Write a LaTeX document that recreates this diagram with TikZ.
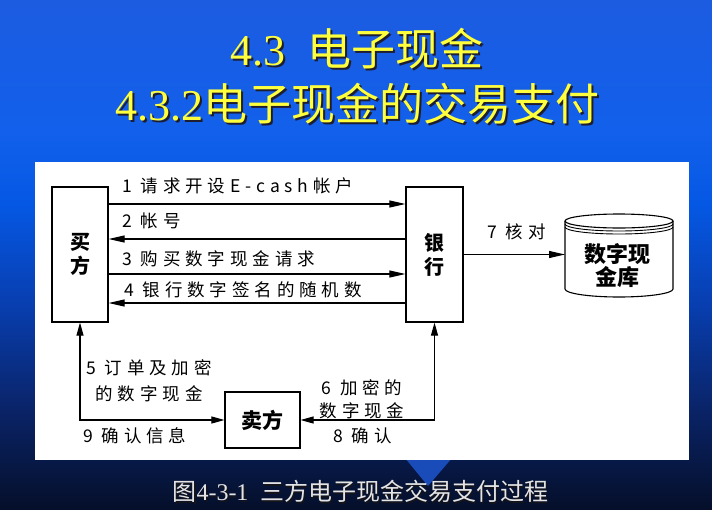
\documentclass[tikz,border=0pt]{standalone}
\usepackage{fontspec}
\setmainfont{Liberation Serif}
\newfontfamily\cjk{Noto Sans CJK SC}
\newfontfamily\cjklab[LetterSpace=28]{Noto Sans CJK SC}
\usetikzlibrary{arrows.meta}
\definecolor{bgA}{RGB}{5,15,42}
\definecolor{bgB}{RGB}{10,36,105}
\definecolor{bgC}{RGB}{8,62,175}
\definecolor{bgD}{RGB}{5,88,228}
\definecolor{bgE}{RGB}{18,96,235}
\definecolor{bgF}{RGB}{28,92,225}
\definecolor{titleyellow}{RGB}{255,255,60}
\definecolor{titleshade}{RGB}{30,30,50}
\definecolor{capgray}{RGB}{228,228,228}
\definecolor{capshade}{RGB}{20,20,25}
\definecolor{tricol}{RGB}{25,75,185}
\newcommand\shtxt[3]{\rlap{\hspace{#2}\raisebox{-#2}{\color{#1}#3}}#3}
\pgfdeclareverticalshading{bgshade}{100bp}{color(0bp)=(bgA); color(25bp)=(bgA); color(35bp)=(bgB); color(45bp)=(bgC); color(55bp)=(bgD); color(62bp)=(bgE); color(75bp)=(bgF); color(100bp)=(bgF)}
\begin{document}
\begin{tikzpicture}[x=1pt,y=-1pt,
  box/.style={draw=black,line width=1.2pt,fill=white,inner sep=0pt,align=center,font=\cjk\bfseries\fontsize{20}{24}\selectfont},
  lab/.style={inner sep=0pt,anchor=west,font=\cjklab\fontsize{17.5}{26}\selectfont},
  arr/.style={line width=1.1pt,-{Triangle[length=16pt,width=7pt]}},
  barr/.style={line width=1.1pt,{Triangle[length=13pt,width=7pt]}-{Triangle[length=13pt,width=7pt]}},
  cyl/.style={line width=1.1pt,draw=black},
  ttl/.style={inner sep=0pt,text=titleyellow,font=\fontsize{44}{50}\selectfont},
  captext/.style={inner sep=0pt,text=capgray,font=\fontsize{24}{28}\selectfont}
]
\useasboundingbox (0,0) rectangle (712,509);
% background
\shade[shading=bgshade] (0,0) rectangle (712,509);
\fill[tricol] (405,458) -- (452,458) -- (428,486) -- cycle;
\fill[white] (35,162) rectangle (689,460);
% titles
\node[ttl] (t1) at (357,49.5) {\shtxt{titleshade}{2.2pt}{4.3\hspace{0.5em}{\cjk 电子现金}}};
\node[ttl] (t2) at (357,104.5) {\shtxt{titleshade}{2.2pt}{4.3.2{\cjk 电子现金的交易支付}}};
% caption
\node[captext] (c) at (360.5,492.5) {\shtxt{capshade}{1.5pt}{{\cjk 图}4-3-1\hspace{0.5em}{\cjk 三方电子现金交易支付过程}}};
% boxes
\node[box,minimum width=56pt,minimum height=135pt] (buyer) at (80,254.5) {买\\方};
\node[box,minimum width=57pt,minimum height=135pt] (bank) at (434.5,254.5) {银\\行};
\node[box,minimum width=75pt,minimum height=56pt,font=\cjk\bfseries\fontsize{21}{24}\selectfont] (seller) at (262.5,420) {卖方};
% cylinder
\draw[cyl,fill=white] (565,221) -- (565,289) arc[start angle=180,end angle=360,x radius=54pt,y radius=8pt] -- (673,221);
\draw[cyl,fill=white] (619,221) ellipse [x radius=54pt,y radius=7pt];
\draw[cyl,line width=0.9pt] (565,224) arc[start angle=180,end angle=360,x radius=54pt,y radius=7pt];
\draw[cyl,line width=0.9pt] (565,227) arc[start angle=180,end angle=360,x radius=54pt,y radius=7pt];
\node[inner sep=0pt,align=center,font=\cjk\bfseries\fontsize{22}{23}\selectfont] (db) at (617,266) {数字现\\金库};
\coordinate (dbleft) at (565,254.5);
% top arrows
\draw[arr] ([yshift=50.5pt]buyer.east) -- ([yshift=50.5pt]bank.west);
\draw[arr] ([yshift=15.5pt]bank.west) -- ([yshift=15.5pt]buyer.east);
\draw[arr] ([yshift=-19.5pt]buyer.east) -- ([yshift=-19.5pt]bank.west);
\draw[arr] ([yshift=-48.5pt]bank.west) -- ([yshift=-48.5pt]buyer.east);
\draw[arr] (bank.east) -- (dbleft);
% bottom connectors
\draw[barr] (buyer.south) |- (seller.west);
\draw[barr] (bank.south) |- (seller.east);
% labels
\node[lab] (l1) at (122,186) {1 请求开设E-cash帐户};
\node[lab] (l2) at (122,221) {2 帐号};
\node[lab] (l3) at (122,259) {3 购买数字现金请求};
\node[lab] (l4) at (124,290) {4 银行数字签名的随机数};
\node[lab] (l7) at (487,232) {7 核对};
\node[lab,anchor=center,align=center] (l5) at (149,381) {5 订单及加密\\的数字现金};
\node[lab,anchor=center,align=center,font=\cjklab\fontsize{17.5}{23}\selectfont] (l6) at (362,399.5) {6 加密的\\数字现金};
\node[lab] (l9) at (83,436) {9 确认信息};
\node[lab] (l8) at (333,436) {8 确认};
\end{tikzpicture}
\end{document}
